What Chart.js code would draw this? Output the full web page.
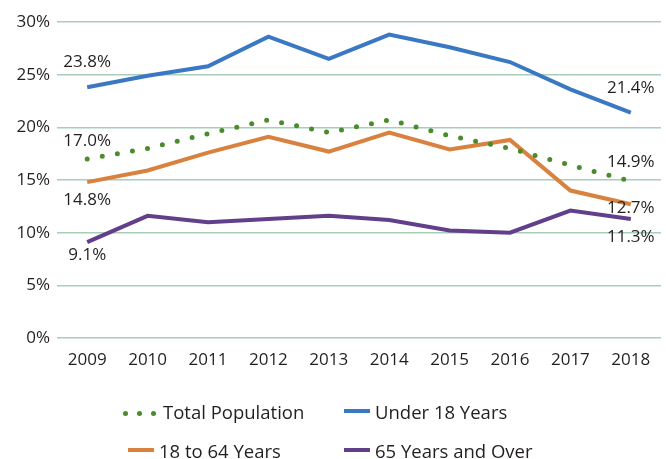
<!DOCTYPE html>
<html>
<head>
<meta charset="utf-8">
<script src="https://cdn.jsdelivr.net/npm/chart.js@4"></script>
<style>
  html, body { margin: 0; padding: 0; background: #fff; }
  #wrap { position: relative; width: 666px; height: 459px; }
  #legend { position: absolute; left: 0; top: 0; width: 666px; height: 459px; pointer-events: none;
            font-family: "Open Sans", sans-serif; font-size: 18.5px; color: #231f20; }
  .item { position: absolute; display: flex; align-items: center; white-space: nowrap; }
  .line { display: inline-block; width: 26px; height: 4px; margin-right: 5px; }
  .dots { display: inline-block; width: 38px; margin-right: 2px; }
  .dots i { display: inline-block; width: 5px; height: 5px; border-radius: 50%; background: #4a8b2c; margin-right: 9px; vertical-align: middle; }
</style>
</head>
<body>
<div id="wrap">
  <canvas id="chart" width="666" height="459"></canvas>
  <div id="legend"></div>
</div>
<script>
const years = ['2009', '2010', '2011', '2012', '2013', '2014', '2015', '2016', '2017', '2018'];
const totalPopulation = [17.0, 18.0, 19.4, 20.7, 19.5, 20.7, 19.2, 18.0, 16.4, 14.9];
const under18 = [23.8, 24.9, 25.8, 28.6, 26.5, 28.8, 27.6, 26.2, 23.6, 21.4];
const age18to64 = [14.8, 15.9, 17.6, 19.1, 17.7, 19.5, 17.9, 18.8, 14.0, 12.7];
const age65plus = [9.1, 11.6, 11.0, 11.3, 11.6, 11.2, 10.2, 10.0, 12.1, 11.3];
const yTicks = [0, 5, 10, 15, 20, 25, 30];

const colors = {
    total: '#4a8b2c',
    under18: '#3b78c3',
    adults: '#d9813e',
    seniors: '#623f8b'
};

// end-point labels: first and last year, nudged above or below the line
const labelOffsets = [
    { first: -18, last: -19 },  // Total Population
    { first: -25, last: -24 },  // Under 18
    { first: 18, last: 4 },     // 18 to 64
    { first: 13, last: 18 }     // 65 and over
];

const endLabels = {
    id: 'endLabels',
    afterDatasetsDraw(chart) {
        const ctx = chart.ctx;
        ctx.save();
        ctx.font = '17px "Open Sans", sans-serif';
        ctx.fillStyle = '#231f20';
        ctx.textAlign = 'center';
        ctx.textBaseline = 'middle';
        chart.data.datasets.forEach((ds, i) => {
            const pts = chart.getDatasetMeta(i).data;
            const last = pts.length - 1;
            ctx.fillText(ds.data[0].toFixed(1) + '%', pts[0].x, pts[0].y + labelOffsets[i].first);
            ctx.fillText(ds.data[last].toFixed(1) + '%', pts[last].x, pts[last].y + labelOffsets[i].last);
        });
        ctx.restore();
    }
};

new Chart(document.getElementById('chart'), {
    type: 'line',
    data: {
        labels: years,
        datasets: [
            {
                label: 'Total Population',
                data: totalPopulation,
                borderColor: colors.total,
                borderWidth: 5,
                borderDash: [0, 15.3],
                borderCapStyle: 'round',
                pointRadius: 0,
                tension: 0
            },
            {
                label: 'Under 18 Years',
                data: under18,
                borderColor: colors.under18,
                borderWidth: 4,
                pointRadius: 0,
                tension: 0
            },
            {
                label: '18 to 64 Years',
                data: age18to64,
                borderColor: colors.adults,
                borderWidth: 4,
                pointRadius: 0,
                tension: 0
            },
            {
                label: '65 Years and Over',
                data: age65plus,
                borderColor: colors.seniors,
                borderWidth: 4,
                pointRadius: 0,
                tension: 0
            }
        ]
    },
    options: {
        responsive: false,
        animation: false,
        layout: { padding: { top: 22, right: 5, bottom: 79, left: 0 } },
        plugins: {
            legend: { display: false },
            tooltip: { enabled: false }
        },
        scales: {
            x: {
                offset: true,
                grid: { display: false, drawTicks: false },
                border: { display: false },
                ticks: {
                    color: '#231f20',
                    padding: 12,
                    font: { family: '"Open Sans", sans-serif', size: 17 }
                },
                afterFit(scale) { scale.height = 42; }
            },
            y: {
                min: 0,
                max: 30,
                afterBuildTicks(scale) { scale.ticks = yTicks.map(v => ({ value: v })); },
                grid: { color: '#a8cdb9', lineWidth: 1.5, drawTicks: false },
                border: { display: false },
                ticks: {
                    color: '#231f20',
                    padding: 7,
                    font: { family: '"Open Sans", sans-serif', size: 17 },
                    callback: v => v + '%'
                },
                afterFit(scale) { scale.width = 57; }
            }
        }
    },
    plugins: [endLabels]
});

// legend laid out in two rows like the printed figure
const legendItems = [
    { text: 'Total Population', color: colors.total, dotted: true, x: 123, y: 411 },
    { text: 'Under 18 Years', color: colors.under18, x: 344, y: 411 },
    { text: '18 to 64 Years', color: colors.adults, x: 128, y: 450 },
    { text: '65 Years and Over', color: colors.seniors, x: 344, y: 450 }
];
const legend = document.getElementById('legend');
legendItems.forEach(it => {
    const el = document.createElement('div');
    el.className = 'item';
    el.style.left = it.x + 'px';
    el.style.top = (it.y - 12) + 'px';
    el.style.height = '24px';
    let marker;
    if (it.dotted) {
        marker = document.createElement('span');
        marker.className = 'dots';
        for (let k = 0; k < 3; k++) {
            const d = document.createElement('i');
            d.style.background = it.color;
            marker.appendChild(d);
        }
    } else {
        marker = document.createElement('span');
        marker.className = 'line';
        marker.style.background = it.color;
    }
    el.appendChild(marker);
    const label = document.createElement('span');
    label.textContent = it.text;
    el.appendChild(label);
    legend.appendChild(el);
});
</script>
</body>
</html>
